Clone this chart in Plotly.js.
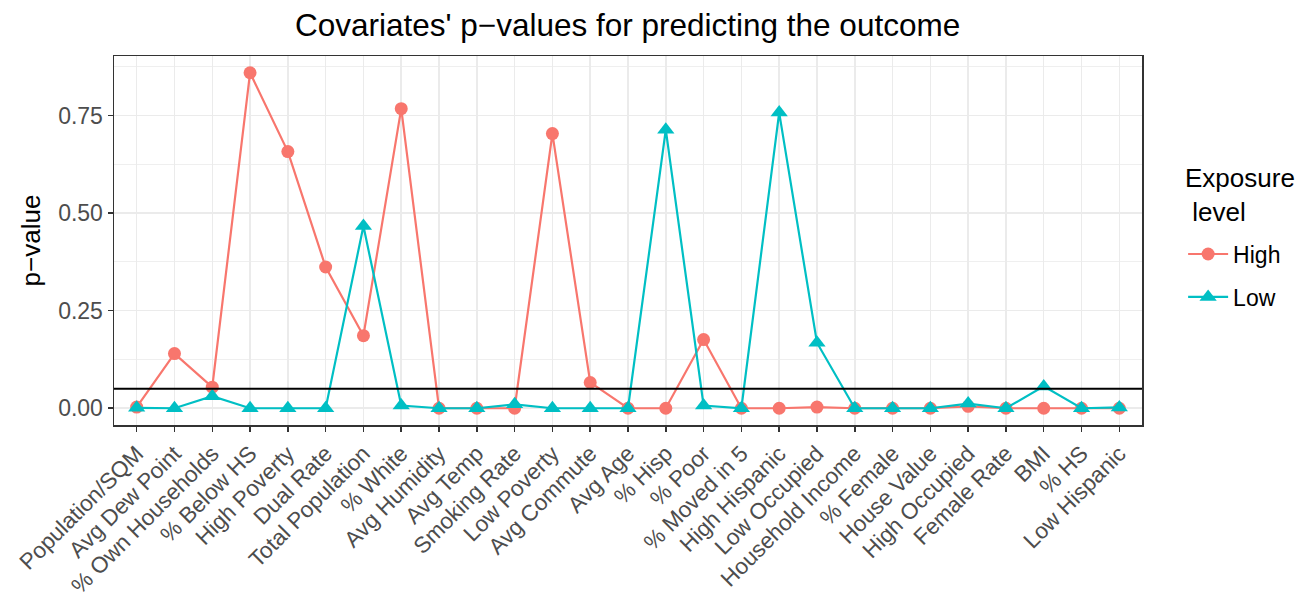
<!DOCTYPE html>
<html>
<head>
<meta charset="utf-8">
<script src="https://cdn.plot.ly/plotly-3.0.1.min.js"></script>
<style>html,body{margin:0;padding:0;background:#fff;}#chart{width:1302px;height:597px;}</style>
</head>
<body>
<div id="chart"></div>
<script>
const categories = ["Population/SQM","Avg Dew Point","% Own Households","% Below HS","High Poverty","Dual Rate","Total Population","% White","Avg Humidity","Avg Temp","Smoking Rate","Low Poverty","Avg Commute","Avg Age","% Hisp","% Poor","% Moved in 5","High Hispanic","Low Occupied","Household Income","% Female","House Value","High Occupied","Female Rate","BMI","% HS","Low Hispanic"];
const highValues = [0.003,0.140,0.054,0.860,0.658,0.362,0.186,0.768,0.0,0.0,0.0,0.704,0.066,0.0,0.0,0.176,0.0,0.0,0.003,0.0,0.0,0.0,0.005,0.0,0.0,0.0,0.0];
const lowValues = [0.001,0.0,0.031,0.0,0.0,0.0,0.467,0.007,0.0,0.0,0.010,0.0,0.0,0.0,0.714,0.007,0.0,0.758,0.168,0.0,0.0,0.0,0.012,0.0,0.056,0.0,0.002];
const threshold = 0.05;
const seriesNames = ["High","Low"];
const yTickVals = [0, 0.25, 0.5, 0.75];
const yTickText = ['0.00','0.25','0.50','0.75'];

const font = "Liberation Sans, Arial, sans-serif";
const traces = [
  {x: categories, y: highValues, name: seriesNames[0], legendgroup: 'g1', type: 'scatter', mode: 'lines+markers',
   line: {color: '#F8766D', width: 2.2}, marker: {symbol: 'circle', size: 13, color: '#F8766D'}},
  {x: categories, y: lowValues, name: seriesNames[1], legendgroup: 'g2', type: 'scatter', mode: 'lines+markers',
   line: {color: '#00BFC4', width: 2.2}, marker: {symbol: 'triangle-up', size: 15, color: '#00BFC4'}}
];
const layout = {
  width: 1302, height: 597,
  margin: {l: 114, r: 160, t: 56, b: 172},
  paper_bgcolor: '#fff', plot_bgcolor: '#fff',
  font: {family: font, color: '#000'},
  title: {text: "Covariates' p\u2212values for predicting the outcome", x: 0.482, xanchor: 'center', y: 0.958, yanchor: 'middle', font: {size: 31.5, color: '#000'}},
  xaxis: {type: 'category', range: [-0.6, 26.6], showgrid: true, gridcolor: '#ebebeb', gridwidth: 1.5,
    tickangle: -45, tickfont: {size: 22.5, color: '#4d4d4d'}, ticks: 'outside', ticklen: 5, tickcolor: '#333', tickwidth: 1.5,
    showline: true, mirror: true, linecolor: '#333', linewidth: 1.5, zeroline: false},
  yaxis: {range: [-0.043, 0.903], tickvals: yTickVals, ticktext: yTickText,
    showgrid: true, gridcolor: '#ebebeb', gridwidth: 1.5,
    minor: {tickvals: [0.125, 0.375, 0.625, 0.875], showgrid: true, gridcolor: '#ebebeb', gridwidth: 0.8, ticks: ''},
    tickfont: {size: 23, color: '#4d4d4d'}, ticks: 'outside', ticklen: 5, tickcolor: '#333', tickwidth: 1.5,
    showline: true, mirror: true, linecolor: '#333', linewidth: 1.5, zeroline: false,
    title: {text: 'p\u2212value', font: {size: 26, color: '#000'}, standoff: 10}},
  shapes: [{type: 'line', xref: 'paper', x0: 0, x1: 1, yref: 'y', y0: threshold, y1: threshold, line: {color: '#000', width: 2}, layer: 'above'}],
  annotations: [{text: 'Exposure<br> level', xref: 'paper', yref: 'paper', x: 1.04, y: 0.715, xanchor: 'left', yanchor: 'top', align: 'left', showarrow: false, font: {size: 26, color: '#000'}}],
  legend: {x: 1.04, xanchor: 'left', y: 0.405, yanchor: 'middle', font: {size: 23, color: '#000'}, tracegroupgap: 10, itemwidth: 40},
  showlegend: true
};
Plotly.newPlot('chart', traces, layout, {displayModeBar: false, staticPlot: true});
</script>
</body>
</html>
